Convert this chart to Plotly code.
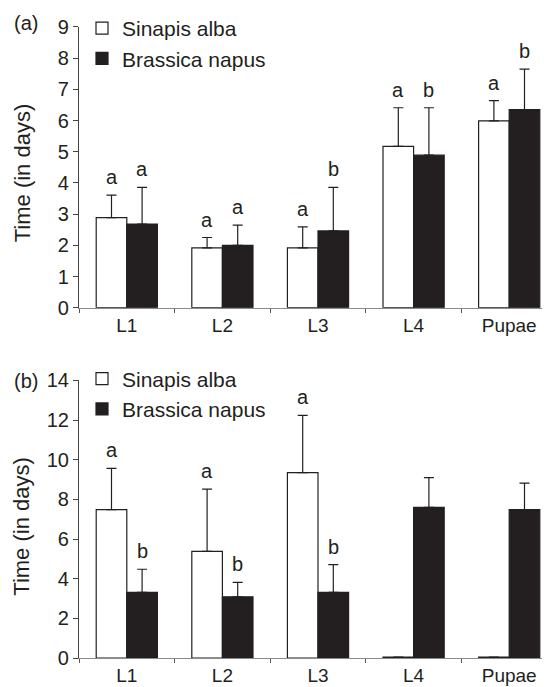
import plotly.graph_objects as go

categories = ["L1", "L2", "L3", "L4", "Pupae"]

# Panel (a)
a_sinapis = [2.89, 1.92, 1.92, 5.17, 5.99]
a_sinapis_err = [0.72, 0.33, 0.67, 1.24, 0.65]
a_brassica = [2.68, 2.00, 2.46, 4.89, 6.35]
a_brassica_err = [1.18, 0.65, 1.40, 1.52, 1.30]
a_sinapis_letters = ["a", "a", "a", "a", "a"]
a_brassica_letters = ["a", "a", "b", "b", "b"]

# Panel (b)
b_sinapis = [7.49, 5.38, 9.35, 0.05, 0.05]
b_sinapis_err = [2.08, 3.14, 2.89, None, None]
b_brassica = [3.32, 3.09, 3.32, 7.60, 7.49]
b_brassica_err = [1.16, 0.73, 1.39, 1.50, 1.33]
b_sinapis_letters = ["a", "a", "a", "", ""]
b_brassica_letters = ["b", "b", "b", "", ""]

y_title = "Time (in days)"

DARK = "#231f20"
FONT = "Liberation Sans, Arial, sans-serif"
H = 687.0
W = 550.0

fig = go.Figure()

def add_panel(vals_w, err_w, vals_b, err_b, xa, ya, legend):
    fig.add_trace(go.Bar(
        x=categories, y=vals_w, name="Sinapis alba",
        marker=dict(color="white", line=dict(color=DARK, width=1.2)),
        error_y=dict(type="data", symmetric=False, array=err_w,
                     arrayminus=[0] * len(err_w), color=DARK, thickness=1.2, width=5),
        xaxis=xa, yaxis=ya, legend=legend, legendgroup=legend + "w",
    ))
    fig.add_trace(go.Bar(
        x=categories, y=vals_b, name="Brassica napus",
        marker=dict(color=DARK, line=dict(color=DARK, width=1.2)),
        error_y=dict(type="data", symmetric=False, array=err_b,
                     arrayminus=[0] * len(err_b), color=DARK, thickness=1.2, width=5),
        xaxis=xa, yaxis=ya, legend=legend, legendgroup=legend + "b",
    ))

add_panel(a_sinapis, a_sinapis_err, a_brassica, a_brassica_err, "x", "y", "legend")
add_panel(b_sinapis, b_sinapis_err, b_brassica, b_brassica_err, "x2", "y2", "legend2")

annotations = []
def add_letters(vals, errs, letters, offset, xref, yref):
    for i, (v, e, t) in enumerate(zip(vals, errs, letters)):
        if not t:
            continue
        annotations.append(dict(
            x=i + offset, y=v + (e or 0), xref=xref, yref=yref, text=t,
            showarrow=False, yanchor="bottom", xanchor="center", yshift=5,
            font=dict(family=FONT, size=20, color=DARK),
        ))

add_letters(a_sinapis, a_sinapis_err, a_sinapis_letters, -0.16, "x", "y")
add_letters(a_brassica, a_brassica_err, a_brassica_letters, 0.16, "x", "y")
add_letters(b_sinapis, b_sinapis_err, b_sinapis_letters, -0.16, "x2", "y2")
add_letters(b_brassica, b_brassica_err, b_brassica_letters, 0.16, "x2", "y2")

annotations.append(dict(text="(a)", x=4 / W, y=1 - 12 / H, xref="paper", yref="paper",
                        xanchor="left", yanchor="middle", showarrow=False,
                        font=dict(family=FONT, size=20, color=DARK)))
annotations.append(dict(text="(b)", x=4 / W, y=1 - 372 / H, xref="paper", yref="paper",
                        xanchor="left", yanchor="middle", showarrow=False,
                        font=dict(family=FONT, size=20, color=DARK)))
# y-axis titles
annotations.append(dict(text=y_title, x=14 / W, y=1 - 163 / H, xref="paper", yref="paper",
                        xanchor="center", yanchor="middle", textangle=-90, showarrow=False,
                        font=dict(family=FONT, size=22, color=DARK)))
annotations.append(dict(text=y_title, x=14 / W, y=1 - 518 / H, xref="paper", yref="paper",
                        xanchor="center", yanchor="middle", textangle=-90, showarrow=False,
                        font=dict(family=FONT, size=22, color=DARK)))

xdom = [71 / W, 549 / W]
ydom_a = [1 - 298 / H, 1 - 16 / H]
ydom_b = [1 - 650 / H, 1 - 371 / H]

xaxis_common = dict(
    type="category", domain=xdom, showline=True, linecolor="#8a8a8a", linewidth=1.2,
    ticks="outside", tickson="boundaries", ticklen=4, tickcolor="#555", tickwidth=1,
    showgrid=False, zeroline=False, automargin=False,
    tickfont=dict(family=FONT, size=19, color=DARK),
)
yaxis_common = dict(
    showline=True, linecolor="#444", linewidth=1.2, ticks="outside", ticklen=5,
    tickcolor="#444", tickwidth=1, showgrid=False, zeroline=False, automargin=False,
    tickfont=dict(family=FONT, size=20, color=DARK),
)

fig.update_layout(
    width=550, height=687,
    margin=dict(l=0, r=0, t=0, b=0),
    paper_bgcolor="white", plot_bgcolor="white",
    barmode="group", bargap=0.36, bargroupgap=0,
    showlegend=True,
    font=dict(family=FONT, size=20, color=DARK),
    xaxis=dict(xaxis_common, anchor="y"),
    xaxis2=dict(xaxis_common, anchor="y2"),
    yaxis=dict(yaxis_common, domain=ydom_a, range=[0, 9], dtick=1, anchor="x"),
    yaxis2=dict(yaxis_common, domain=ydom_b, range=[0, 14], dtick=2, anchor="x2"),
    legend=dict(x=74 / W, y=1 + 3 / H, xanchor="left", yanchor="top",
                bgcolor="rgba(0,0,0,0)", font=dict(family=FONT, size=21, color=DARK),
                tracegroupgap=0, itemclick=False),
    legend2=dict(x=74 / W, y=1 - 349 / H, xanchor="left", yanchor="top",
                 bgcolor="rgba(0,0,0,0)", font=dict(family=FONT, size=21, color=DARK),
                 tracegroupgap=0, itemclick=False),
    annotations=annotations,
)

fig.write_html("out.html")
